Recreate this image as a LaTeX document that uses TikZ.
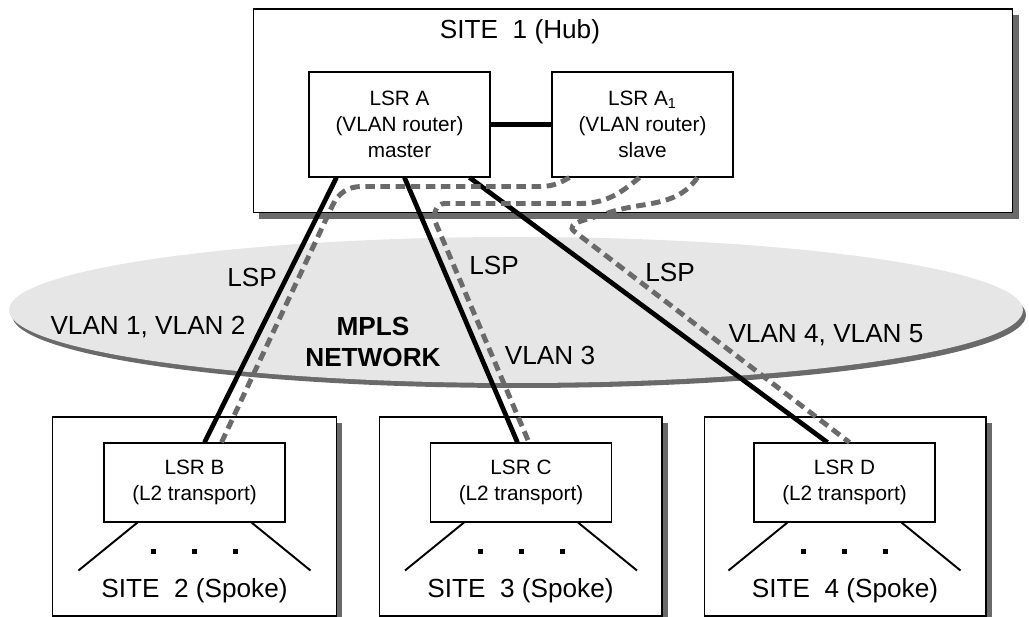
\documentclass[tikz,border=0pt]{standalone}
\usepackage{fontspec}
\setmainfont{Liberation Sans}
\usetikzlibrary{shadows}
\definecolor{cloudgray}{HTML}{E6E6E6}
\definecolor{shadegray}{HTML}{6A6A6A}

\begin{document}
\begin{tikzpicture}[x=0.02cm, y=-0.02cm, every node/.style={font=\fontsize{14.9}{17}\selectfont}]
\tikzstyle{site}=[draw, line width=0.6pt, fill=white, inner sep=0pt, drop shadow={shadow xshift=0.12cm, shadow yshift=-0.12cm, fill=shadegray, opacity=1}]
\tikzstyle{lsr}=[draw, line width=0.6pt, fill=white, inner sep=0pt, align=center, minimum width=3.62cm, font=\fontsize{11.8}{14.7}\selectfont]
\tikzstyle{lsp}=[line width=2.7pt]
\tikzstyle{vlan}=[line width=2.8pt, shadegray, dash pattern=on 5.4pt off 3.2pt]
\tikzstyle{fan}=[line width=1.1pt]
\useasboundingbox (0,0) rectangle (1029,617);

% MPLS cloud
\fill[shadegray] (519,315) ellipse [x radius=507, y radius=73];
\fill[cloudgray] (516,310) ellipse [x radius=507, y radius=73];

% sites
\node[site, minimum width=15.2cm, minimum height=4.08cm] (hub) at (633,111) {};
\node[site, minimum width=5.68cm, minimum height=3.98cm] (site2) at (194.5,516.5) {};
\node[site, minimum width=5.66cm, minimum height=3.98cm] (site3) at (520.5,516.5) {};
\node[site, minimum width=5.64cm, minimum height=3.98cm] (site4) at (845,516.5) {};
\node (hubtitle) at (520,32) {SITE\ \ 1 (Hub)};
\node (site2title) at (194.5,591) {SITE\ \ 2 (Spoke)};
\node (site3title) at (520.5,591) {SITE\ \ 3 (Spoke)};
\node (site4title) at (845,591) {SITE\ \ 4 (Spoke)};

% routers
\node[lsr, minimum height=2.1cm] (lsrA) at (399.5,124.5) {LSR A\\(VLAN router)\\master};
\node[lsr, minimum height=2.1cm] (lsrA1) at (642.5,124.5) {LSR A\textsubscript{1}\\(VLAN router)\\slave};
\node[lsr, minimum height=1.58cm] (lsrB) at (194.5,482.5) {LSR B\\(L2 transport)};
\node[lsr, minimum height=1.58cm] (lsrC) at (521,482.5) {LSR C\\(L2 transport)};
\node[lsr, minimum height=1.58cm] (lsrD) at (844.5,482.5) {LSR D\\(L2 transport)};

% local links
\foreach \n in {B,C,D} {
  \draw[fan] ([xshift=0.68cm]lsr\n.south west) -- ++(-59,48);
  \draw[fan] ([xshift=-0.68cm]lsr\n.south east) -- ++(59,48);
  \foreach \dx in {-41,0,41}
    \fill ([shift={(\dx-2.5,26.5)}]lsr\n.south) rectangle ++(5,5);
}

% LSPs
\draw[lsp] (lsrA) -- (lsrA1);
\draw[lsp] ([xshift=0.56cm]lsrA.south west) -- ([xshift=2.02cm]lsrB.north west);
\draw[lsp] ([xshift=1.92cm]lsrA.south west) -- ([xshift=1.75cm]lsrC.north west);
\draw[lsp] ([xshift=3.22cm]lsrA.south west) -- ([xshift=1.48cm]lsrD.north west);

% VLAN paths
\draw[vlan] ([xshift=0.36cm]lsrA1.south west) to[out=-150,in=0] ++(-30,9) -- ++(-178,0)
  to[out=180,in=65] ++(-29,19) -- ([xshift=2.36cm]lsrB.north west);
\draw[vlan] ([xshift=1.76cm]lsrA1.south west) to[out=-140,in=0] ++(-60,26) -- ++(-135,0)
  to[out=180,in=113] ++(-9,19) -- ([xshift=1.98cm]lsrC.north west);
\draw[vlan] ([xshift=2.92cm]lsrA1.south west) to[out=-125,in=20] ++(-91,36)
  to[out=200,in=142] ++(-32,18) -- ([xshift=1.92cm]lsrD.north west);

% labels
\node (lsp1) at (252,277) {LSP};
\node (vlan12) at (148,327) {VLAN 1, VLAN 2};
\node[align=center, font=\fontsize{14.9}{17.5}\selectfont\bfseries] (mpls) at (373,342) {MPLS\\NETWORK};
\node (lsp2) at (494,265) {LSP};
\node (vlan3) at (550,355) {VLAN 3};
\node (lsp3) at (670,272) {LSP};
\node (vlan45) at (826,335) {VLAN 4, VLAN 5};
\end{tikzpicture}
\end{document}
